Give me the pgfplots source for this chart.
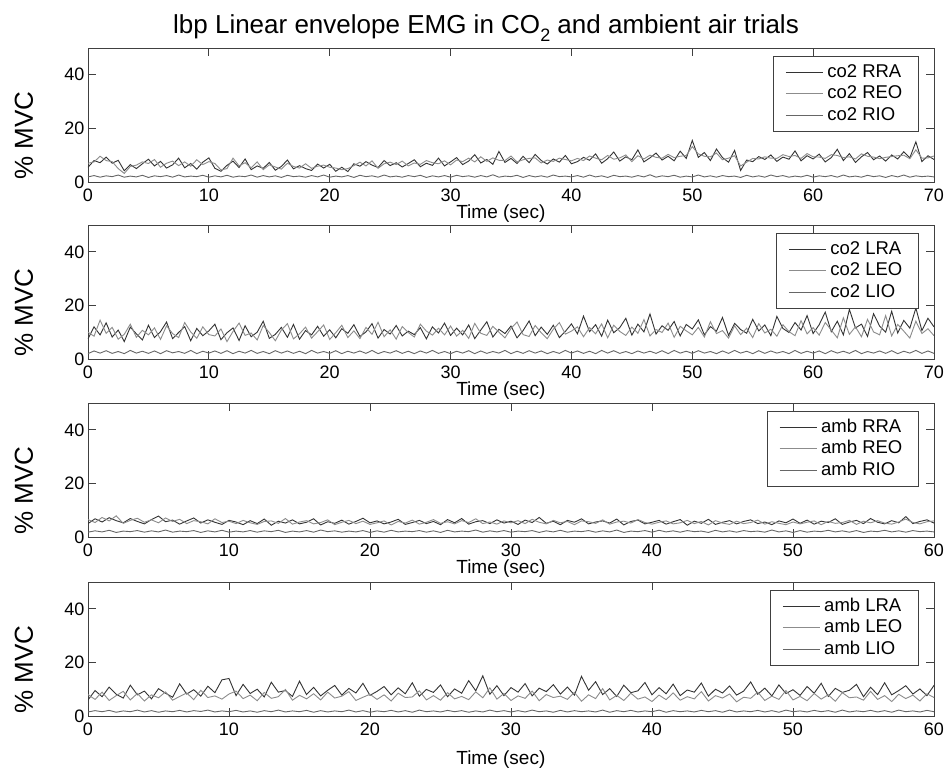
\documentclass[border=0pt]{standalone}
\usepackage{pgfplots}
\pgfplotsset{compat=1.18}
\usepackage{pgfplotstable}
\usepackage{fontspec}
\setmainfont{Liberation Sans}

\definecolor{cA}{gray}{0.2}
\definecolor{cB}{gray}{0.55}
\definecolor{cC}{gray}{0.4}
\definecolor{fr}{gray}{0.25}

% ---------- subplot 1: co2 right ----------
\pgfplotstableread[row sep=\\]{y\\
5.5\\8.0\\7.2\\9.3\\7.0\\8.1\\4.2\\6.5\\5.0\\6.8\\8.5\\6.0\\7.7\\5.2\\6.4\\8.9\\5.3\\6.9\\4.8\\7.4\\9.0\\
5.1\\4.0\\6.2\\7.8\\5.4\\8.6\\4.6\\6.0\\5.1\\7.3\\4.4\\5.8\\8.2\\4.9\\6.1\\5.0\\4.3\\6.7\\5.2\\6.6\\
4.0\\5.5\\3.9\\6.8\\5.9\\7.6\\6.3\\5.4\\8.0\\6.1\\7.2\\5.6\\6.9\\8.3\\5.7\\7.0\\6.2\\8.9\\6.0\\7.5\\
9.1\\6.5\\7.8\\10.2\\7.1\\8.4\\6.6\\11.4\\7.3\\8.8\\6.9\\9.6\\7.2\\10.3\\8.0\\6.7\\8.6\\7.4\\9.9\\6.8\\
7.6\\9.2\\8.1\\10.5\\7.0\\8.7\\11.2\\7.8\\9.4\\8.3\\12.0\\7.5\\9.0\\10.8\\8.2\\9.6\\7.9\\11.5\\8.8\\15.5\\
9.2\\11.0\\8.0\\12.3\\9.1\\7.4\\11.8\\4.3\\8.2\\7.6\\9.5\\8.4\\10.1\\7.7\\9.3\\8.5\\11.6\\7.9\\9.8\\8.6\\
10.4\\7.5\\9.1\\12.2\\8.0\\10.6\\7.3\\9.4\\11.0\\8.3\\9.7\\7.8\\10.1\\8.6\\11.3\\9.0\\15.0\\7.6\\9.8\\8.4\\
}\aA
\pgfplotstableread[row sep=\\]{y\\
7.0\\7.5\\9.6\\8.0\\7.6\\5.0\\3.2\\5.8\\6.3\\7.5\\6.9\\8.4\\5.5\\7.0\\7.8\\6.1\\7.5\\5.9\\8.3\\6.5\\7.6\\
6.9\\4.5\\5.0\\8.9\\6.0\\7.2\\5.3\\7.5\\4.6\\6.4\\5.6\\4.8\\7.0\\5.8\\5.2\\6.8\\5.1\\5.9\\6.3\\5.5\\
5.2\\4.6\\5.0\\6.1\\7.4\\6.0\\7.9\\5.1\\6.8\\7.4\\6.5\\7.8\\6.0\\7.1\\6.6\\8.0\\7.2\\6.8\\7.9\\6.4\\
8.2\\7.6\\8.9\\7.5\\9.4\\7.7\\9.0\\8.1\\8.0\\9.7\\7.5\\8.3\\8.8\\9.0\\7.1\\8.2\\7.7\\8.9\\8.4\\7.9\\
8.8\\8.0\\9.7\\8.9\\8.3\\9.9\\8.5\\9.0\\10.1\\7.6\\9.8\\8.6\\10.0\\9.2\\8.9\\10.3\\9.1\\9.6\\9.9\\13.2\\
10.5\\9.6\\9.4\\10.8\\8.3\\8.9\\9.8\\6.0\\7.4\\8.8\\8.6\\9.4\\8.9\\8.8\\10.2\\9.5\\9.9\\8.8\\10.6\\9.4\\
9.3\\8.8\\10.2\\9.9\\9.1\\9.4\\8.6\\10.5\\9.6\\9.3\\8.7\\9.2\\9.5\\9.8\\10.0\\8.7\\12.0\\8.9\\9.0\\9.7\\
}\aB
\pgfplotstableread[row sep=\\]{y\\
1.9\\2.4\\1.8\\2.3\\2.0\\2.6\\1.8\\2.2\\1.9\\2.5\\1.7\\2.3\\2.0\\2.4\\1.8\\2.6\\1.9\\2.2\\2.0\\2.5\\1.8\\
2.3\\1.9\\2.5\\1.8\\2.2\\2.0\\2.6\\1.8\\2.4\\1.9\\2.3\\1.7\\2.5\\2.0\\2.2\\1.8\\2.4\\1.9\\2.6\\1.8\\
2.2\\1.9\\2.4\\1.7\\2.5\\2.0\\2.3\\1.8\\2.6\\1.9\\2.2\\1.8\\2.4\\2.0\\2.5\\1.7\\2.3\\1.9\\2.4\\1.8\\
2.5\\2.0\\2.3\\1.8\\2.4\\1.9\\2.7\\1.8\\2.2\\2.0\\2.5\\1.7\\2.4\\1.9\\2.3\\1.8\\2.6\\2.0\\2.2\\1.9\\
2.4\\1.8\\2.6\\1.9\\2.3\\1.7\\2.5\\2.0\\2.2\\1.8\\2.4\\1.9\\2.7\\1.8\\2.3\\2.0\\2.5\\1.8\\2.2\\1.9\\
2.6\\1.9\\2.3\\1.8\\2.4\\2.0\\2.2\\1.7\\2.5\\1.9\\2.3\\1.8\\2.6\\2.0\\2.4\\1.8\\2.2\\1.9\\2.5\\1.8\\
2.3\\2.0\\2.4\\1.8\\2.6\\1.9\\2.2\\1.8\\2.5\\2.0\\2.3\\1.7\\2.4\\1.9\\2.6\\1.8\\2.3\\2.0\\2.2\\1.9\\
}\aC

% ---------- subplot 2: co2 left ----------
\pgfplotstableread[row sep=\\]{y\\
7.5\\12.0\\9.0\\13.5\\8.2\\10.8\\6.5\\11.9\\9.4\\7.1\\12.6\\8.0\\10.2\\13.8\\7.6\\9.9\\12.1\\6.8\\11.4\\8.7\\10.5\\
13.0\\7.2\\9.8\\11.6\\6.9\\12.4\\8.3\\10.0\\14.1\\7.7\\9.2\\11.8\\8.1\\12.9\\7.4\\10.6\\9.0\\12.2\\8.5\\10.9\\
7.9\\11.3\\9.6\\12.8\\8.4\\10.1\\13.2\\7.8\\11.0\\9.3\\12.5\\8.6\\10.4\\9.1\\11.7\\7.5\\12.0\\9.7\\13.4\\8.8\\
11.5\\9.0\\12.7\\7.6\\10.8\\13.9\\8.2\\11.1\\9.5\\12.3\\7.9\\10.6\\14.2\\8.7\\11.9\\9.2\\12.6\\8.0\\10.3\\13.1\\
9.4\\16.0\\10.2\\12.8\\8.5\\14.5\\9.8\\11.7\\15.2\\8.9\\13.0\\10.1\\16.8\\9.3\\12.4\\10.7\\14.0\\8.6\\12.9\\11.2\\
14.6\\9.0\\12.1\\10.4\\15.5\\8.8\\13.3\\11.0\\9.6\\14.8\\10.5\\12.7\\8.7\\15.9\\11.4\\9.9\\13.6\\10.8\\16.2\\9.5\\
12.8\\17.5\\10.2\\14.1\\9.0\\18.5\\11.6\\13.0\\8.4\\16.9\\12.3\\10.0\\17.8\\9.7\\14.4\\11.5\\19.0\\10.6\\15.2\\12.0\\
}\bA
\pgfplotstableread[row sep=\\]{y\\
10.0\\8.5\\14.5\\9.6\\11.8\\7.4\\9.2\\13.0\\8.1\\10.7\\9.0\\11.6\\7.3\\12.4\\9.5\\8.0\\13.6\\10.1\\7.7\\12.0\\9.1\\
8.6\\11.2\\6.5\\10.3\\13.4\\8.8\\9.7\\7.1\\12.5\\9.9\\6.8\\10.8\\13.2\\7.5\\9.4\\11.9\\7.8\\10.2\\12.7\\7.3\\
9.8\\12.6\\8.0\\10.5\\7.6\\11.8\\9.2\\13.7\\8.3\\10.9\\7.4\\12.1\\9.9\\8.2\\13.0\\10.4\\8.9\\11.5\\9.0\\12.3\\
8.5\\10.7\\7.7\\13.3\\9.6\\8.8\\12.2\\10.0\\7.9\\11.4\\13.8\\9.1\\8.4\\12.5\\9.8\\7.6\\11.1\\13.6\\9.3\\10.4\\
12.0\\8.3\\11.7\\9.4\\13.1\\7.9\\12.6\\10.3\\8.8\\11.9\\9.6\\14.7\\8.6\\11.0\\9.9\\13.4\\8.1\\12.2\\10.5\\9.0\\
11.8\\8.2\\13.9\\9.5\\10.6\\7.8\\12.4\\9.1\\11.5\\8.0\\13.2\\9.7\\11.1\\8.5\\12.8\\10.2\\8.7\\14.3\\9.4\\11.7\\
8.9\\13.6\\10.8\\7.9\\15.4\\9.2\\12.0\\8.3\\14.8\\10.1\\9.0\\16.2\\8.6\\12.9\\10.4\\7.8\\14.1\\9.5\\11.3\\8.7\\
}\bB
\pgfplotstableread[row sep=\\]{y\\
2.0\\3.0\\2.2\\3.1\\2.1\\2.8\\2.0\\3.2\\2.2\\2.9\\2.1\\3.0\\2.0\\3.1\\2.3\\2.8\\2.1\\3.2\\2.0\\2.9\\2.2\\
3.0\\2.1\\3.1\\2.0\\2.9\\2.2\\3.2\\2.1\\2.8\\2.0\\3.1\\2.2\\3.0\\2.1\\2.9\\2.0\\3.2\\2.2\\2.8\\2.1\\
3.1\\2.0\\2.9\\2.2\\3.0\\2.1\\3.2\\2.0\\2.8\\2.2\\3.1\\2.1\\2.9\\2.0\\3.0\\2.2\\3.2\\2.1\\2.8\\2.0\\
2.9\\2.2\\3.1\\2.0\\3.0\\2.1\\2.8\\2.2\\3.2\\2.0\\2.9\\2.1\\3.1\\2.2\\3.0\\2.0\\2.8\\2.1\\3.2\\2.2\\
3.0\\2.1\\2.9\\2.0\\3.2\\2.2\\3.1\\2.1\\2.8\\2.0\\3.0\\2.2\\2.9\\2.1\\3.1\\2.0\\3.2\\2.2\\2.9\\2.1\\
3.1\\2.2\\2.8\\2.0\\3.0\\2.1\\3.2\\2.2\\2.9\\2.0\\3.1\\2.1\\3.0\\2.2\\2.8\\2.0\\3.2\\2.1\\2.9\\2.2\\
3.0\\2.0\\3.1\\2.2\\2.9\\2.1\\3.2\\2.0\\2.8\\2.2\\3.0\\2.1\\3.1\\2.0\\2.9\\2.2\\3.2\\2.1\\3.0\\2.1\\
}\bC

% ---------- subplot 3: ambient right ----------
\pgfplotstableread[row sep=\\]{y\\
5.0\\6.8\\5.6\\7.2\\6.1\\5.3\\6.9\\5.8\\4.9\\6.5\\7.8\\5.7\\6.3\\4.8\\6.0\\7.1\\5.2\\6.4\\5.5\\4.7\\6.2\\
5.6\\4.6\\6.1\\5.0\\6.7\\4.4\\5.9\\5.2\\6.4\\4.9\\5.5\\6.8\\4.5\\5.7\\5.1\\6.3\\4.8\\5.8\\7.0\\5.3\\
6.0\\4.9\\5.6\\6.6\\4.7\\5.4\\6.2\\5.0\\5.8\\4.6\\6.5\\5.3\\6.9\\4.8\\5.7\\6.1\\5.0\\6.4\\5.2\\5.9\\
4.7\\6.3\\5.4\\7.3\\5.1\\5.9\\4.6\\6.2\\5.5\\6.8\\4.9\\5.6\\6.0\\5.2\\6.7\\4.5\\5.8\\6.3\\4.9\\5.5\\
6.2\\4.8\\5.7\\6.5\\4.4\\5.9\\5.1\\6.6\\4.7\\5.5\\6.1\\4.9\\5.8\\6.4\\5.0\\5.6\\4.6\\6.0\\5.3\\6.7\\
5.1\\6.3\\4.8\\5.9\\5.4\\6.8\\4.7\\5.6\\6.2\\5.0\\6.9\\5.5\\4.9\\6.1\\5.3\\7.6\\5.0\\5.8\\6.4\\5.2\\6.6\\
}\cA
\pgfplotstableread[row sep=\\]{y\\
6.5\\5.4\\7.3\\6.0\\7.9\\5.1\\6.2\\7.0\\5.5\\6.4\\5.3\\7.1\\5.8\\6.6\\5.0\\6.1\\5.7\\4.9\\6.8\\5.4\\5.9\\
5.0\\6.2\\5.3\\4.7\\5.8\\6.0\\5.1\\6.9\\4.8\\5.6\\6.1\\4.9\\5.4\\6.4\\4.6\\5.5\\6.2\\5.0\\5.9\\4.7\\
5.3\\6.0\\4.5\\5.8\\5.2\\6.3\\4.8\\5.5\\6.5\\5.1\\5.7\\4.9\\6.1\\5.4\\6.8\\5.0\\5.6\\4.8\\6.0\\5.3\\
6.1\\5.0\\6.6\\5.5\\4.9\\6.2\\5.3\\5.8\\4.6\\6.0\\5.7\\5.1\\6.4\\4.8\\5.6\\5.9\\5.2\\6.5\\5.4\\4.8\\
5.5\\6.0\\4.9\\5.3\\6.2\\5.0\\5.8\\4.5\\6.1\\5.2\\4.7\\5.9\\5.0\\5.4\\6.3\\4.8\\5.7\\5.1\\4.6\\5.6\\
4.9\\5.5\\6.0\\4.6\\5.8\\5.1\\5.4\\6.2\\4.7\\5.9\\5.3\\6.1\\5.2\\4.8\\5.6\\6.7\\5.4\\4.9\\5.7\\6.0\\5.2\\
}\cB
\pgfplotstableread[row sep=\\]{y\\
1.8\\2.3\\1.9\\2.5\\1.7\\2.2\\2.0\\2.4\\1.8\\2.3\\1.9\\2.6\\1.8\\2.2\\2.0\\2.4\\1.7\\2.3\\1.9\\2.5\\1.8\\
2.2\\1.9\\2.4\\1.8\\2.3\\2.0\\2.5\\1.7\\2.2\\1.9\\2.4\\1.8\\2.6\\2.0\\2.3\\1.8\\2.2\\1.9\\2.4\\1.7\\
2.3\\1.8\\2.5\\1.9\\2.2\\2.0\\2.4\\1.8\\2.3\\1.7\\2.5\\1.9\\2.2\\2.0\\2.6\\1.8\\2.3\\1.9\\2.4\\1.8\\
2.2\\2.0\\2.4\\1.7\\2.3\\1.9\\2.5\\1.8\\2.2\\2.0\\2.4\\1.8\\2.3\\1.9\\2.6\\1.7\\2.2\\2.0\\2.4\\1.8\\
2.5\\1.9\\2.3\\1.8\\2.4\\2.0\\2.2\\1.7\\2.5\\1.9\\2.3\\1.8\\2.4\\2.0\\2.2\\1.8\\2.6\\1.9\\2.3\\1.7\\
2.4\\1.8\\2.2\\2.0\\2.5\\1.9\\2.3\\1.8\\2.4\\1.7\\2.2\\2.0\\2.5\\1.9\\2.3\\1.8\\2.4\\2.0\\2.2\\1.9\\2.3\\
}\cC

% ---------- subplot 4: ambient left ----------
\pgfplotstableread[row sep=\\]{y\\
6.0\\9.5\\7.2\\10.8\\8.1\\6.7\\11.5\\7.9\\9.3\\6.4\\10.2\\8.5\\7.0\\12.0\\8.2\\9.8\\7.4\\11.1\\8.7\\13.5\\14.0\\
7.6\\11.8\\8.4\\10.0\\7.1\\12.6\\8.9\\9.5\\7.3\\13.0\\8.0\\10.7\\7.5\\9.6\\11.4\\7.8\\10.3\\8.6\\12.2\\7.7\\
9.2\\11.0\\7.9\\10.5\\8.3\\12.4\\7.4\\9.9\\8.8\\11.6\\7.2\\10.1\\8.5\\13.2\\9.4\\15.0\\8.1\\11.3\\7.6\\10.6\\
8.9\\12.1\\7.5\\10.4\\9.1\\11.7\\8.2\\10.8\\7.8\\14.8\\9.6\\12.8\\8.0\\10.2\\7.3\\11.5\\8.7\\9.4\\12.5\\7.9\\
10.6\\8.3\\11.9\\7.6\\9.7\\8.9\\12.3\\7.4\\10.0\\8.6\\11.2\\7.8\\9.3\\12.7\\8.1\\10.4\\7.5\\11.6\\8.4\\9.8\\
7.7\\11.0\\8.5\\12.2\\7.3\\10.3\\8.8\\9.6\\11.8\\7.2\\10.7\\8.0\\12.4\\7.9\\9.5\\11.3\\8.2\\10.1\\7.6\\11.4\\9.0\\
}\dA
\pgfplotstableread[row sep=\\]{y\\
8.0\\6.2\\8.9\\5.8\\7.6\\9.2\\6.0\\8.4\\5.6\\7.9\\6.8\\9.0\\5.9\\7.3\\8.6\\6.1\\9.6\\6.9\\7.5\\6.3\\8.2\\
9.3\\6.5\\7.8\\5.7\\8.8\\6.6\\7.2\\9.9\\5.9\\7.7\\6.4\\8.3\\6.0\\8.9\\6.7\\7.4\\9.1\\5.8\\7.0\\8.1\\
6.2\\7.9\\5.6\\8.5\\6.9\\7.1\\9.4\\6.0\\7.6\\5.9\\8.7\\6.4\\7.3\\6.1\\9.0\\6.8\\10.5\\6.3\\8.4\\5.8\\
7.5\\6.6\\9.3\\5.7\\8.0\\6.9\\7.4\\6.2\\8.8\\5.5\\7.9\\6.5\\10.2\\6.0\\7.7\\5.8\\8.5\\6.3\\7.1\\5.4\\
7.8\\6.1\\8.6\\5.9\\7.2\\6.4\\9.1\\5.6\\7.6\\6.7\\8.2\\5.3\\7.0\\6.6\\8.9\\5.8\\7.4\\6.2\\9.5\\6.0\\
7.3\\5.7\\8.4\\6.3\\7.9\\5.5\\8.7\\6.8\\7.1\\5.9\\9.2\\6.2\\7.6\\5.4\\8.1\\6.5\\7.8\\5.6\\8.3\\6.9\\7.5\\
}\dB
\pgfplotstableread[row sep=\\]{y\\
1.5\\2.0\\1.6\\2.1\\1.4\\1.9\\1.6\\2.2\\1.5\\2.0\\1.4\\1.9\\1.6\\2.1\\1.5\\2.0\\1.7\\2.2\\1.5\\1.9\\1.6\\
2.1\\1.5\\1.9\\1.4\\2.0\\1.6\\2.2\\1.5\\1.9\\1.6\\2.1\\1.4\\2.0\\1.5\\1.9\\1.6\\2.2\\1.5\\2.0\\1.4\\
1.9\\1.6\\2.1\\1.5\\2.0\\1.4\\2.2\\1.6\\1.9\\1.5\\2.1\\1.6\\2.0\\1.4\\1.9\\1.5\\2.2\\1.6\\2.0\\1.5\\
2.0\\1.5\\2.2\\1.6\\1.9\\1.4\\2.1\\1.5\\2.0\\1.6\\1.9\\1.5\\2.2\\1.4\\2.0\\1.6\\2.1\\1.5\\1.9\\1.6\\
2.2\\1.4\\2.0\\1.6\\1.9\\1.5\\2.1\\1.6\\2.0\\1.4\\2.2\\1.5\\1.9\\1.6\\2.1\\1.5\\2.0\\1.4\\2.2\\1.6\\
1.9\\1.5\\2.1\\1.6\\2.0\\1.4\\2.2\\1.5\\1.9\\1.6\\2.1\\1.5\\2.0\\1.4\\2.2\\1.6\\1.9\\1.5\\2.1\\1.6\\2.0\\
}\dC

\pgfplotsset{
  emg/.style={
    scale only axis, width=846pt, height=134pt, anchor=north west,
    xmin=0, ymin=0, ymax=50, ytick={0,20,40},
    tick align=inside, tick pos=both, major tick length=8pt,
    axis line style={fr, line width=0.8pt},
    every tick/.style={fr, line width=0.8pt},
    /pgf/number format/assume math mode=true,
    ticklabel style={font=\fontsize{18}{18}\selectfont},
    xticklabel style={yshift=-3pt},
    xlabel={Time (sec)},
    xlabel style={font=\fontsize{19}{19}\selectfont, at={(axis description cs:0.488,0)}, anchor=center, yshift=-32pt},
    ylabel={\% MVC},
    ylabel style={font=\fontsize{26}{26}\selectfont, at={(axis description cs:-0.0757,0.345)}, anchor=center},
    axis background/.style={fill=white},
    legend style={at={(0.982,0.94)}, anchor=north east, draw=fr, line width=0.8pt,
      fill=white, font=\fontsize{18.5}{21.5}\selectfont, inner xsep=12pt, inner ysep=5pt,
      row sep=0pt, nodes={inner xsep=4pt, inner ysep=2.5pt, text height=13.5pt, text depth=3pt}},
    legend image code/.code={\draw[#1, line width=0.9pt] (0pt,0pt) -- (37pt,0pt);},
    legend cell align=left,
    every axis plot/.append style={line width=0.9pt},
  }
}

\begin{document}
\begin{tikzpicture}
\useasboundingbox (0pt,0pt) rectangle (946pt,-774pt);

\begin{axis}[emg, at={(88pt,-48pt)}, xmax=70, xtick={0,10,...,70}]
\addplot[cA] table[x expr=\coordindex*0.5, y=y] {\aA};
\addplot[cB] table[x expr=\coordindex*0.5, y=y] {\aB};
\addplot[cC] table[x expr=\coordindex*0.5, y=y] {\aC};
\legend{co2 RRA, co2 REO, co2 RIO}
\end{axis}

\begin{axis}[emg, at={(88pt,-225pt)}, xmax=70, xtick={0,10,...,70}]
\addplot[cA] table[x expr=\coordindex*0.5, y=y] {\bA};
\addplot[cB] table[x expr=\coordindex*0.5, y=y] {\bB};
\addplot[cC] table[x expr=\coordindex*0.5, y=y] {\bC};
\legend{co2 LRA, co2 LEO, co2 LIO}
\end{axis}

\begin{axis}[emg, at={(88pt,-403pt)}, xmax=60, xtick={0,10,...,60}]
\addplot[cA] table[x expr=\coordindex*0.5, y=y] {\cA};
\addplot[cB] table[x expr=\coordindex*0.5, y=y] {\cB};
\addplot[cC] table[x expr=\coordindex*0.5, y=y] {\cC};
\legend{amb RRA, amb REO, amb RIO}
\end{axis}

\begin{axis}[emg, at={(88pt,-582pt)}, xmax=60, xtick={0,10,...,60}, xlabel style={yshift=-12pt}]
\addplot[cA] table[x expr=\coordindex*0.5, y=y] {\dA};
\addplot[cB] table[x expr=\coordindex*0.5, y=y] {\dB};
\addplot[cC] table[x expr=\coordindex*0.5, y=y] {\dC};
\legend{amb LRA, amb LEO, amb LIO}
\end{axis}

\node[font=\fontsize{26}{26}\selectfont, anchor=base] at (486pt,-33pt)
  {lbp Linear envelope EMG in CO\raisebox{-0.32em}{\fontsize{18}{18}\selectfont 2} and ambient air trials};
\end{tikzpicture}
\end{document}
